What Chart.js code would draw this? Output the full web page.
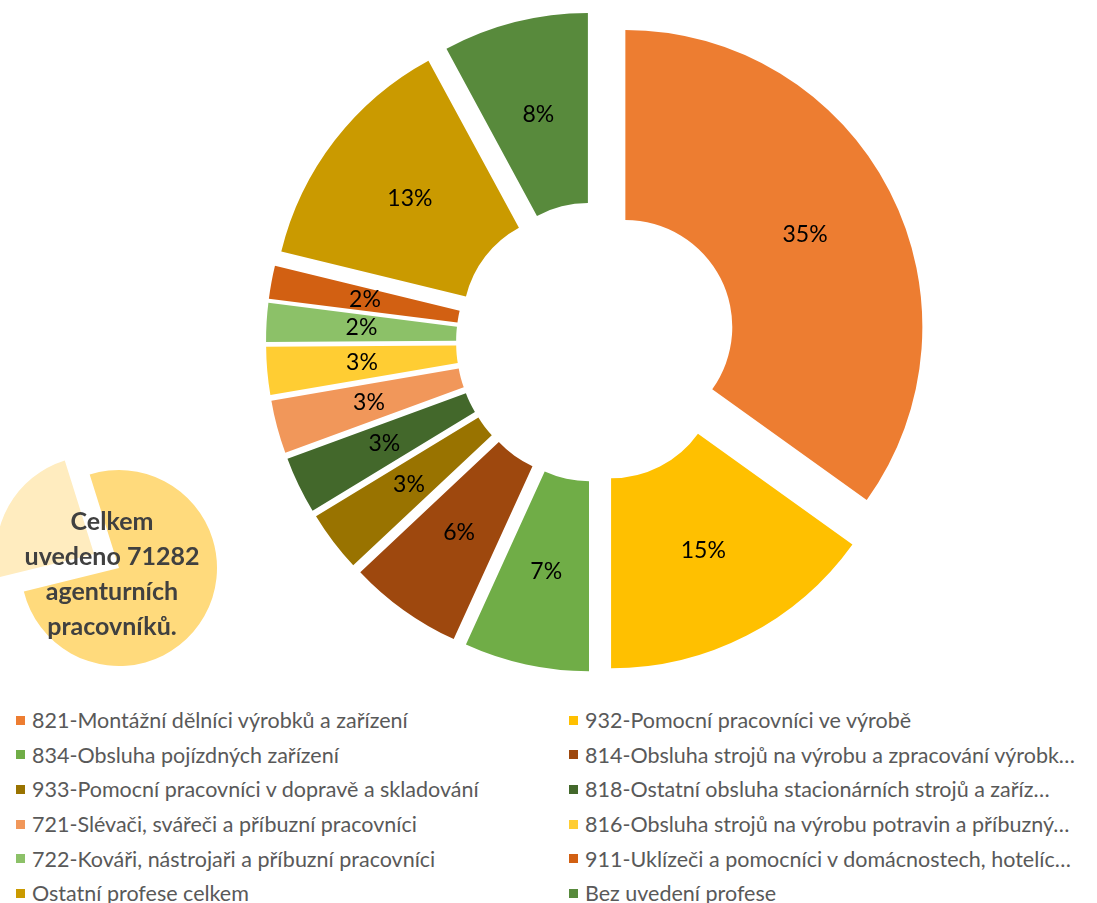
<!DOCTYPE html>
<html lang="cs">
<head>
<meta charset="utf-8">
<script src="https://cdn.jsdelivr.net/npm/chart.js@4.4.1/dist/chart.umd.min.js"></script>
<style>
    html, body { margin: 0; padding: 0; background: #fff; }
    body { width: 1097px; height: 903px; position: relative; overflow: hidden; font-family: Lato, "Open Sans", sans-serif; }
    #donutChart { position: absolute; left: 259px; top: 5px; }
    #totalChart { position: absolute; left: -14px; top: 435px; }
    #totalText {
        position: absolute; left: 12px; top: 503px; width: 200px;
        text-align: center; font-weight: bold; font-size: 25px; line-height: 35px; color: #404040;
    }
    #legend {
        position: absolute; left: 16px; top: 703px; width: 1081px;
        display: grid; grid-template-columns: 553px 528px; grid-auto-rows: 34.6px;
        font-size: 21.5px; color: #595959;
    }
    .item { display: flex; align-items: center; white-space: nowrap; }
    .item i { display: inline-block; width: 9px; height: 9px; margin-right: 7px; flex: none; }
</style>
</head>
<body>
<canvas id="donutChart" width="674" height="674"></canvas>
<canvas id="totalChart" width="266" height="266"></canvas>
<div id="totalText">Celkem<br>uvedeno 71282<br>agenturních<br>pracovníků.</div>
<div id="legend"></div>

<script>
    /* ---------- data ---------- */

    const professions = [
        "821-Montážní dělníci výrobků a zařízení",
        "932-Pomocní pracovníci ve výrobě",
        "834-Obsluha pojízdných zařízení",
        "814-Obsluha strojů na výrobu a zpracování výrobk…",
        "933-Pomocní pracovníci v dopravě a skladování",
        "818-Ostatní obsluha stacionárních strojů a zaříz…",
        "721-Slévači, svářeči a příbuzní pracovníci",
        "816-Obsluha strojů na výrobu potravin a příbuzný…",
        "722-Kováři, nástrojaři a příbuzní pracovníci",
        "911-Uklízeči a pomocníci v domácnostech, hotelíc…",
        "Ostatní profese celkem",
        "Bez uvedení profese"
    ];

    // podíl v %
    const shares = [34.9, 15.1, 6.8, 6.2, 3.3, 3.1, 2.9, 2.6, 2.1, 1.8, 13.3, 7.9];

    const colors = [
        "#ED7D31", "#FFC000", "#70AD47", "#9E480E", "#997300", "#43682B",
        "#F1975A", "#FFCD33", "#8CC168", "#D26012", "#CA9A00", "#588A3C"
    ];

    const totalShares = [76, 24];
    const totalColors = ["#FFDA7C", "#FFECBF"];

    /* ---------- plugins ---------- */

    // vysunuté výseče: každý oblouk posunut od středu
    const explodePlugin = {
        id: "explode",
        beforeDatasetDraw(chart, args, opts) {
            const ctx = chart.ctx;
            args.meta.data.forEach((arc, i) => {
                const d = Array.isArray(opts.distance) ? opts.distance[i] : opts.distance;
                const mid = (arc.startAngle + arc.endAngle) / 2;
                ctx.save();
                ctx.translate(Math.cos(mid) * d, Math.sin(mid) * d);
                arc.draw(ctx);
                ctx.restore();
            });
            return false;
        }
    };

    const percentPlugin = {
        id: "percentLabels",
        afterDatasetsDraw(chart, args, opts) {
            if (!opts.show) return;
            const ctx = chart.ctx;
            const meta = chart.getDatasetMeta(0);
            const data = chart.data.datasets[0].data;
            const total = data.reduce((a, b) => a + b, 0);
            const d = chart.options.plugins.explode.distance;
            ctx.save();
            ctx.font = "23px Lato";
            ctx.fillStyle = "#000";
            ctx.textAlign = "center";
            ctx.textBaseline = "middle";
            meta.data.forEach((arc, i) => {
                const mid = (arc.startAngle + arc.endAngle) / 2;
                const r = (arc.innerRadius + arc.outerRadius) / 2 + d;
                const x = arc.x + Math.cos(mid) * r;
                const y = arc.y + Math.sin(mid) * r;
                ctx.fillText(Math.round(data[i] / total * 100) + "%", x, y);
            });
            ctx.restore();
        }
    };

    /* ---------- hlavní graf ---------- */

    new Chart(document.getElementById("donutChart"), {
        type: "doughnut",
        data: {
            labels: professions,
            datasets: [{
                data: shares,
                backgroundColor: colors,
                borderWidth: 0
            }]
        },
        options: {
            responsive: false,
            animation: false,
            cutout: "36%",
            layout: { padding: 40 },
            plugins: {
                legend: { display: false },
                tooltip: { enabled: false },
                explode: { distance: 33 },
                percentLabels: { show: true }
            }
        },
        plugins: [explodePlugin, percentPlugin]
    });

    /* ---------- malý koláč (celkem) ---------- */

    new Chart(document.getElementById("totalChart"), {
        type: "pie",
        data: {
            labels: ["uvedeno", "ostatní"],
            datasets: [{
                data: totalShares,
                backgroundColor: totalColors,
                borderWidth: 0
            }]
        },
        options: {
            responsive: false,
            animation: false,
            rotation: -17.4,
            layout: { padding: 35 },
            plugins: {
                legend: { display: false },
                tooltip: { enabled: false },
                explode: { distance: [0, 28.6] },
                percentLabels: { show: false }
            }
        },
        plugins: [explodePlugin, percentPlugin]
    });

    /* ---------- legenda ---------- */

    const legend = document.getElementById("legend");
    professions.forEach((name, i) => {
        const item = document.createElement("div");
        item.className = "item";
        item.innerHTML = `<i style="background:${colors[i]}"></i><span></span>`;
        item.querySelector("span").textContent = name;
        legend.appendChild(item);
    });
</script>
</body>
</html>
